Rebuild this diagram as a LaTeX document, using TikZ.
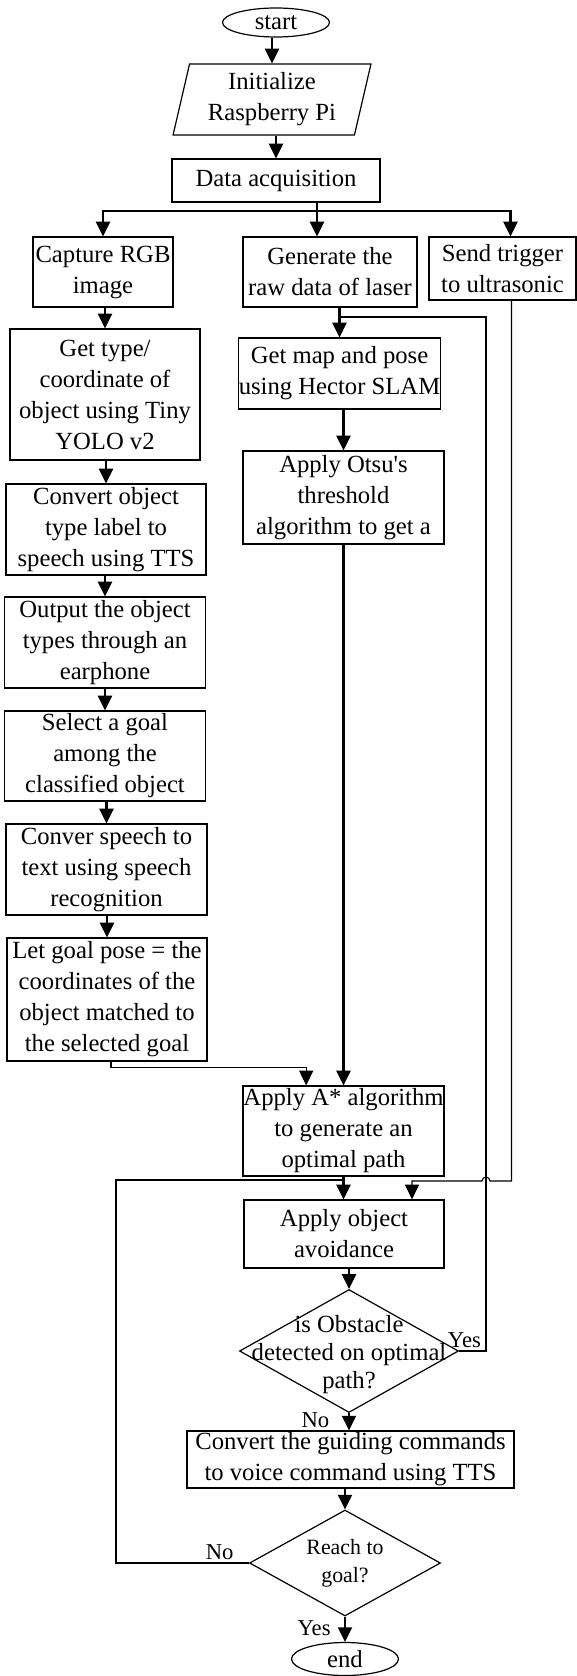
\documentclass[tikz,border=0pt]{standalone}
\usepackage{fontspec}
\setmainfont{Liberation Serif}
\usetikzlibrary{shapes.geometric,arrows.meta}
\newcommand{\flowfont}{\fontsize{18.5}{23.25}\selectfont}
\newcommand{\askfont}{\fontsize{18.5}{21}\selectfont}
\newcommand{\tagfont}{\fontsize{17}{20}\selectfont}

\begin{document}
\begin{tikzpicture}[
    x=0.75pt, y=-0.75pt,
    process/.style={draw, line width=0.9pt, align=center, inner sep=0pt, font=\flowfont},
    term/.style={draw, line width=0.9pt, ellipse, inner sep=0pt, minimum width=80.25pt, font=\flowfont},
    io/.style={draw, line width=0.9pt, trapezium, trapezium left angle=76.5, trapezium right angle=103.5, trapezium stretches=true, align=center, inner sep=0pt, font=\flowfont},
    decision/.style={draw, line width=0.9pt, diamond, inner sep=0pt},
    flow/.style={-{Triangle[width=10.5pt,length=11pt]}, line width=1.6pt},
    feed/.style={line width=0.8pt},
    feedarrow/.style={feed, -{Triangle[width=10.5pt,length=11pt]}},
    tag/.style={font=\tagfont, inner sep=2pt}
  ]
  \useasboundingbox (0,0) rectangle (577,1676);

  % start and set-up
  \node[term, minimum height=21.75pt] (start) at (276,22.5) {start};
  \node[io, minimum width=148.5pt, minimum height=53.25pt] (init) at (272,99.5) {Initialize\\Raspberry Pi};
  \node[process, minimum width=156pt, minimum height=32.25pt] (acq) at (276,180.5) {Data acquisition};

  % the three sensors
  \node[process, minimum width=105pt, minimum height=52.5pt] (rgb) at (103,272) {Capture RGB\\image};
  \node[process, minimum width=130.5pt, minimum height=52.5pt] (laser) at (330,272) {Generate the\\raw data of laser};
  \node[process, minimum width=110.25pt, minimum height=47.25pt] (trig) at (502.5,268.5) {Send trigger\\to ultrasonic};

  % camera column
  \node[process, minimum width=142.5pt, minimum height=98.25pt] (yolo) at (105,394.5) {Get type/\\coordinate of\\object using Tiny\\YOLO v2};
  \node[process, minimum width=150pt, minimum height=68.25pt] (tts) at (106,529.5) {Convert object\\type label to\\speech using TTS};
  \node[process, minimum width=150.75pt, minimum height=68.25pt] (ear) at (105,642.5) {Output the object\\types through an\\earphone};
  \node[process, minimum width=150.75pt, minimum height=67.5pt] (sel) at (105,756) {Select a goal\\among the\\classified object};
  \node[process, minimum width=150.75pt, minimum height=68.25pt] (stt) at (106.5,869.5) {Conver speech to\\text using speech\\recognition};
  \node[process, minimum width=150pt, minimum height=92.25pt] (goal) at (107,999.5) {Let goal pose = the\\coordinates of the\\object matched to\\the selected goal};

  % laser column
  \node[process, minimum width=150.75pt, minimum height=53.25pt] (slam) at (339.5,373.5) {Get map and pose\\using Hector SLAM};
  \node[process, minimum width=150.75pt, minimum height=69.75pt] (otsu) at (343.5,497.5) {Apply Otsu\textquotesingle s\\threshold\\algorithm to get a};
  \node[process, minimum width=150.75pt, minimum height=67.5pt] (astar) at (343.5,1131) {Apply A* algorithm\\to generate an\\optimal path};
  \node[process, minimum width=150pt, minimum height=51pt] (avoid) at (344,1234) {Apply object\\avoidance};
  \node[decision, minimum width=164.25pt, minimum height=92.25pt,
        label={[font=\askfont, align=center, yshift=-3pt]center:is Obstacle\\detected on optimal\\path?}] (obst) at (349,1351) {};
  \node[process, minimum width=245.25pt, minimum height=42.75pt] (voice) at (350.5,1459.5) {Convert the guiding commands\\to voice command using TTS};
  \node[decision, minimum width=143.25pt, minimum height=79.5pt,
        label={[font=\fontsize{16.4}{21}\selectfont, align=center]center:Reach to\\goal?}] (reach) at (345,1563) {};
  \node[term, minimum height=24.75pt] (end) at (345,1659) {end};

  \coordinate (fork) at (317,211);
  \coordinate (relocal) at (486,317);
  \coordinate (hop) at (486,1181);
  \coordinate (back) at (116,1180);

  \draw[flow] (start.south -| init.north) -- (init.north);
  \draw[flow] (init.south -| acq.north) -- (acq.north);
  \draw[flow] (acq.south -| fork) -- (fork |- laser.north);
  \draw[flow] (fork) -| (rgb.north);
  \draw[flow] (fork) -| ([xshift=6pt]trig.north);

  \draw[flow] (rgb.south -| yolo.north) -- (yolo.north);
  \draw[flow] (yolo.south -| tts.north) -- (tts.north);
  \draw[flow] (tts.south -| ear.north) -- (ear.north);
  \draw[flow] (ear.south -| sel.north) -- (sel.north);
  \draw[flow] (sel.south -| stt.north) -- (stt.north);
  \draw[flow] (stt.south -| goal.north) -- (goal.north);
  \draw[feedarrow] ([xshift=3pt]goal.south) -- ++(0,6) -| ([xshift=-28pt]astar.north);

  \draw[flow] (laser.south -| slam.north) -- (slam.north);
  \draw[flow] (slam.south -| otsu.north) -- (otsu.north);
  \draw[flow] (otsu.south) -- (astar.north);
  \draw[flow] (astar.south) -- (astar.south |- avoid.north);
  \draw[feedarrow] ([xshift=6.75pt]trig.south) |- ([xshift=3pt]hop)
    arc[start angle=0, end angle=-180, radius=4] -| ([xshift=51pt]avoid.north);

  \draw[flow] (avoid.south -| obst.north) -- (obst.north);
  \draw[feed] (obst.east) -- node[tag, above, pos=0.2] {Yes} (obst.east -| relocal) -- (relocal) -- (relocal -| slam.north);
  \draw[flow] (obst.south) -- node[tag, left=12pt, pos=0.4] {No} (obst.south |- voice.north);
  \draw[flow] (voice.south -| reach.north) -- (reach.north);
  \draw[feed] (reach.west) -| node[tag, above, pos=0.11] {No} (back) -- (back -| avoid.north);
  \draw[flow] (reach.south) -- node[tag, left=8pt, pos=0.45] {Yes} (end.north);
\end{tikzpicture}
\end{document}
